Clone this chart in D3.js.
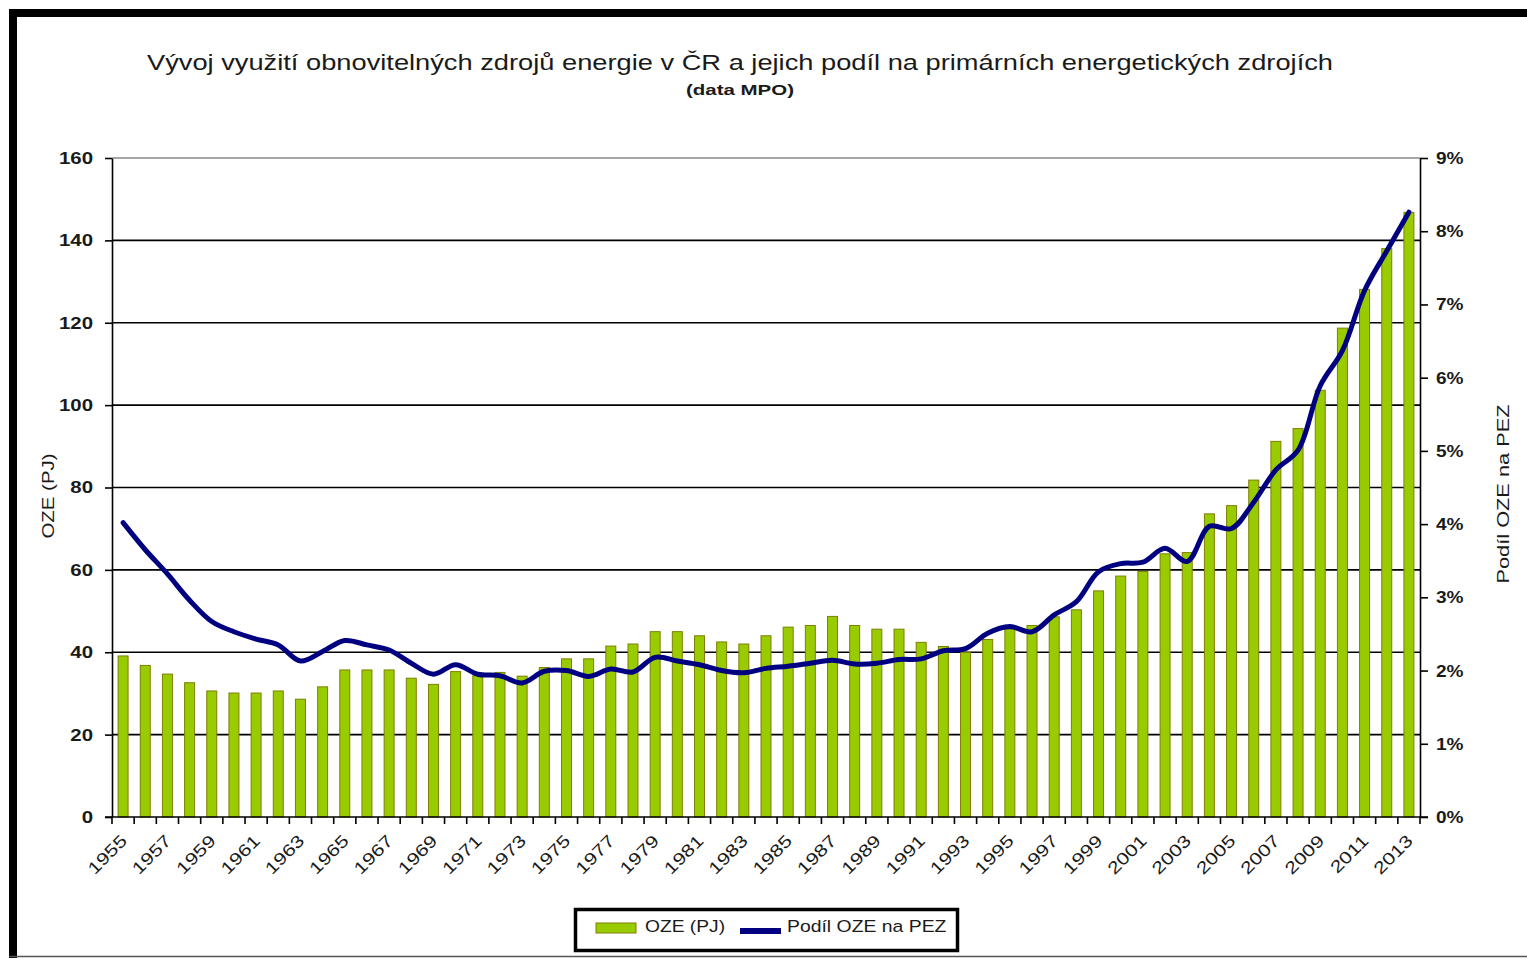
<!DOCTYPE html>
<html>
<head>
  <meta charset="utf-8">
  <title>Vývoj využití OZE v ČR</title>
  <script src="https://d3js.org/d3.v7.min.js"></script>
  <style>
    body { margin: 0; background: #fff; }
    text { font-family: "Liberation Sans", Arial, sans-serif; fill: #1a1a1a; }
    .bar { fill: #99cc00; stroke: #7f7f00; stroke-width: 1; }
    .tick-lbl { font-size: 17px; font-weight: bold; }
    .x-lbl { font-size: 17px; }
  </style>
</head>
<body>

  <svg width="1527" height="958"></svg>

  <script>
    // Years (categories)
    const years = [1955, 1956, 1957, 1958, 1959, 1960, 1961, 1962, 1963, 1964,
      1965, 1966, 1967, 1968, 1969, 1970, 1971, 1972, 1973, 1974,
      1975, 1976, 1977, 1978, 1979, 1980, 1981, 1982, 1983, 1984,
      1985, 1986, 1987, 1988, 1989, 1990, 1991, 1992, 1993, 1994,
      1995, 1996, 1997, 1998, 1999, 2000, 2001, 2002, 2003, 2004,
      2005, 2006, 2007, 2008, 2009, 2010, 2011, 2012, 2013];

    // OZE (PJ) - bars
    const oze = [39.1, 36.8, 34.7, 32.6, 30.6, 30.1, 30.1, 30.6, 28.6, 31.6,
      35.7, 35.7, 35.7, 33.7, 32.2, 35.3, 34.3, 35.1, 34.2, 36.3,
      38.4, 38.4, 41.5, 42.0, 45.0, 45.0, 44.0, 42.5, 42.0, 44.0,
      46.1, 46.5, 48.7, 46.5, 45.6, 45.6, 42.4, 41.4, 40.0, 43.1,
      45.6, 46.5, 48.6, 50.3, 54.9, 58.5, 59.6, 63.9, 64.2, 73.6,
      75.6, 81.8, 91.2, 94.3, 103.6, 118.7, 128.1, 138.0, 146.8];

    // Podíl OZE na PEZ (%) - line
    const share = [4.02, 3.65, 3.32, 2.96, 2.67, 2.53, 2.43, 2.35, 2.13, 2.26,
      2.41, 2.35, 2.28, 2.10, 1.95, 2.08, 1.95, 1.93, 1.83, 1.99,
      2.00, 1.92, 2.02, 1.98, 2.18, 2.13, 2.08, 2.00, 1.97, 2.03,
      2.06, 2.10, 2.14, 2.09, 2.10, 2.15, 2.16, 2.27, 2.30, 2.51,
      2.60, 2.53, 2.76, 2.94, 3.35, 3.46, 3.48, 3.67, 3.49, 3.97,
      3.94, 4.30, 4.74, 5.01, 5.89, 6.37, 7.19, 7.73, 8.26];

    const leftTicks = [0, 20, 40, 60, 80, 100, 120, 140, 160];
    const rightTicks = [0, 1, 2, 3, 4, 5, 6, 7, 8, 9];

    const svg = d3.select("svg");

    // the source picture is stretched sideways, so widen text a bit
    function stretch(sel, k) {
      sel.each(function () {
        const len = this.getComputedTextLength();
        d3.select(this).attr("textLength", len * k).attr("lengthAdjust", "spacingAndGlyphs");
      });
    }

    // Plot area
    const plotL = 112, plotR = 1420, plotT = 158, plotB = 817;

    const x = d3.scaleBand()
      .domain(years)
      .range([plotL, plotR])
      .paddingInner(0.55)
      .paddingOuter(0.275);

    const xb = d3.scaleBand().domain(years).range([plotL, plotR]);

    const y = d3.scaleLinear().domain([0, 160]).range([plotB, plotT]);
    const y2 = d3.scaleLinear().domain([0, 9]).range([plotB, plotT]);

    // Outer frame
    svg.append("path")
      .attr("d", `M13,958 V13 H1527`)
      .attr("fill", "none")
      .attr("stroke", "#000")
      .attr("stroke-width", 8);
    svg.append("line")
      .attr("x1", 9).attr("x2", 1527).attr("y1", 956.5).attr("y2", 956.5)
      .attr("stroke", "#555").attr("stroke-width", 1.5);

    // Title
    svg.append("text")
      .attr("x", 740).attr("y", 70)
      .attr("text-anchor", "middle")
      .attr("textLength", 1186).attr("lengthAdjust", "spacingAndGlyphs")
      .style("font-size", "22px")
      .text("Vývoj využití obnovitelných zdrojů energie v ČR a jejich podíl na primárních energetických zdrojích");
    svg.append("text")
      .attr("x", 740).attr("y", 95)
      .attr("text-anchor", "middle")
      .attr("textLength", 108).attr("lengthAdjust", "spacingAndGlyphs")
      .style("font-size", "15px")
      .style("font-weight", "bold")
      .text("(data MPO)");

    // Gridlines
    svg.append("g")
      .selectAll("line")
      .data(leftTicks.filter(d => d > 0))
      .join("line")
      .attr("x1", plotL).attr("x2", plotR)
      .attr("y1", d => y(d)).attr("y2", d => y(d))
      .attr("stroke", d => d === 160 ? "#888" : "#000")
      .attr("stroke-width", 1.6);

    // Bars
    svg.append("g")
      .selectAll("rect")
      .data(years)
      .join("rect")
      .attr("class", "bar")
      .attr("x", d => x(d))
      .attr("y", (d, i) => y(oze[i]))
      .attr("width", x.bandwidth())
      .attr("height", (d, i) => plotB - y(oze[i]));

    // Left axis
    const yAxis = svg.append("g")
      .attr("transform", `translate(${plotL},0)`)
      .call(d3.axisLeft(y).tickValues(leftTicks).tickSize(7).tickSizeOuter(0).tickPadding(12));
    yAxis.select(".domain").attr("stroke", "#000").attr("stroke-width", 1.6);
    yAxis.selectAll(".tick line").attr("stroke-width", 1.6);
    yAxis.selectAll(".tick text").attr("class", "tick-lbl").attr("fill", "#1a1a1a");
    stretch(yAxis.selectAll(".tick text"), 1.2);

    // Right axis
    const y2Axis = svg.append("g")
      .attr("transform", `translate(${plotR},0)`)
      .call(d3.axisRight(y2).tickValues(rightTicks).tickFormat(d => d + "%").tickSize(8).tickSizeOuter(0).tickPadding(8));
    y2Axis.select(".domain").attr("stroke", "#000").attr("stroke-width", 1.6);
    y2Axis.selectAll(".tick line").attr("stroke-width", 1.6);
    y2Axis.selectAll(".tick text").attr("class", "tick-lbl").attr("fill", "#1a1a1a");
    stretch(y2Axis.selectAll(".tick text"), 1.12);

    // Bottom axis: line + ticks between categories
    svg.append("line")
      .attr("x1", plotL - 7).attr("x2", plotR + 8)
      .attr("y1", plotB).attr("y2", plotB)
      .attr("stroke", "#000").attr("stroke-width", 1.6);
    svg.append("g")
      .selectAll("line")
      .data(years.concat([null]))
      .join("line")
      .attr("x1", (d, i) => i < years.length ? xb(d) : plotR)
      .attr("x2", (d, i) => i < years.length ? xb(d) : plotR)
      .attr("y1", plotB).attr("y2", plotB + 7)
      .attr("stroke", "#000").attr("stroke-width", 1.6);

    // X labels (every other year)
    const xl = svg.append("g")
      .selectAll("text")
      .data(years.filter((d, i) => i % 2 === 0))
      .join("text")
      .attr("class", "x-lbl")
      .attr("text-anchor", "end")
      .attr("transform", d => `translate(${x(d) + x.bandwidth() / 2 + 5},${plotB + 25}) rotate(-45)`)
      .text(d => d);
    stretch(xl, 1.25);

    // Share line
    const line = d3.line()
      .x((d, i) => x(years[i]) + x.bandwidth() / 2)
      .y(d => y2(d))
      .curve(d3.curveCatmullRom.alpha(0.5));

    svg.append("path")
      .datum(share)
      .attr("fill", "none")
      .attr("stroke", "#000080")
      .attr("stroke-width", 5)
      .attr("stroke-linejoin", "round")
      .attr("stroke-linecap", "round")
      .attr("d", line);

    // Axis titles
    stretch(svg.append("text")
      .attr("transform", "translate(54,496) rotate(-90)")
      .attr("text-anchor", "middle")
      .style("font-size", "17px")
      .text("OZE (PJ)"), 1.2);
    stretch(svg.append("text")
      .attr("transform", "translate(1509,494) rotate(-90)")
      .attr("text-anchor", "middle")
      .style("font-size", "17px")
      .text("Podíl OZE na PEZ"), 1.28);

    // Legend
    const lg = svg.append("g");
    lg.append("rect")
      .attr("x", 575.5).attr("y", 909.5).attr("width", 382).attr("height", 41)
      .attr("fill", "#fff").attr("stroke", "#000").attr("stroke-width", 3.5);
    lg.append("rect")
      .attr("class", "bar")
      .attr("x", 596).attr("y", 923).attr("width", 40).attr("height", 10);
    stretch(lg.append("text")
      .attr("x", 645).attr("y", 932)
      .style("font-size", "17px")
      .text("OZE (PJ)"), 1.13);
    lg.append("rect")
      .attr("x", 740).attr("y", 928).attr("width", 41).attr("height", 6)
      .attr("fill", "#000080");
    stretch(lg.append("text")
      .attr("x", 787).attr("y", 932)
      .style("font-size", "17px")
      .text("Podíl OZE na PEZ"), 1.14);
  </script>

</body>
</html>
